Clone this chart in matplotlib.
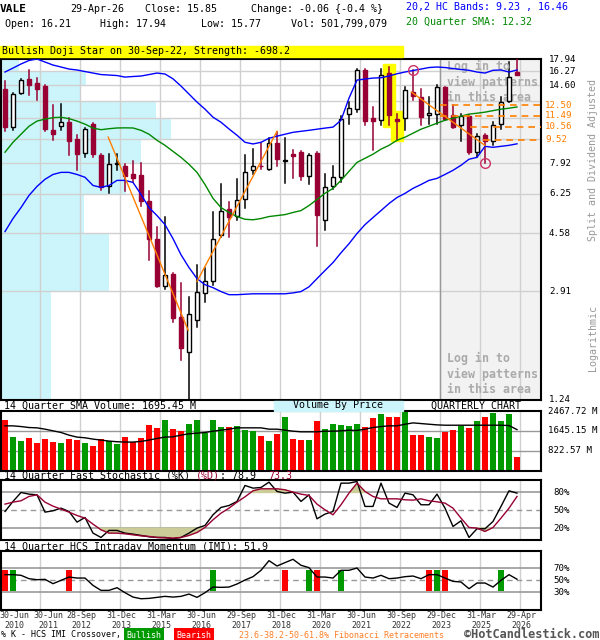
import numpy as np
import matplotlib
matplotlib.use("Agg")
import matplotlib.pyplot as plt
from matplotlib.patches import Rectangle
from matplotlib import transforms

# quarterly candles, Q2 2010 .. Q2 2026 (split and dividend adjusted)
opens = [14.2, 10.52, 13.74, 15.29, 14.86, 14.5, 10.31, 10.58, 10.94, 9.6,
         8.6, 10.79, 8.48, 6.65, 7.88, 7.78, 7.29, 7.23, 5.91, 4.37,
         3.03, 3.32, 2.37, 1.81, 2.33, 2.86, 3.15, 4.53, 5.53, 5.26,
         6.0, 7.52, 7.78, 7.58, 9.27, 8.09, 8.53, 8.66, 7.15, 8.58,
         5.09, 6.65, 7.1, 11.68, 12.14, 16.4, 11.28, 11.09, 16.07, 11.23,
         11.31, 13.85, 13.33, 11.53, 11.68, 14.4, 11.53, 10.66, 11.47, 8.64,
         9.91, 9.47, 10.74, 12.9, 16.21]
highs = [15.1, 13.7, 15.29, 16.4, 15.49, 14.6, 12.47, 12.56, 11.31, 9.86,
         10.46, 10.85, 8.55, 8.53, 8.53, 7.85, 8.09, 7.92, 6.39, 4.8,
         5.19, 3.35, 3.11, 2.78, 3.58, 3.5, 5.4, 6.74, 5.84, 7.0,
         8.48, 8.87, 9.27, 9.66, 10.1, 9.64, 8.8, 8.7, 8.55, 8.65,
         7.29, 7.78, 11.5, 12.8, 16.62, 16.62, 12.3, 16.62, 16.85, 11.68,
         14.4, 16.4, 14.2, 13.33, 14.59, 14.45, 12.47, 11.68, 11.55, 9.97,
         9.95, 10.94, 13.33, 17.5, 17.94]
lows = [10.24, 10.3, 13.6, 13.5, 13.03, 10.18, 9.52, 10.31, 8.43, 7.52,
        8.3, 8.3, 6.42, 6.3, 7.49, 6.39, 6.82, 5.69, 3.7, 3.0,
        2.95, 2.28, 1.7, 1.24, 2.19, 2.67, 3.06, 4.43, 4.43, 5.08,
        5.6, 7.29, 7.58, 7.52, 7.78, 6.8, 7.05, 6.94, 6.74, 4.15,
        4.71, 6.47, 6.83, 10.79, 11.83, 10.66, 8.76, 10.66, 10.66, 9.52,
        10.31, 13.0, 10.66, 10.79, 10.79, 11.09, 10.45, 9.47, 8.53, 8.3,
        7.92, 9.18, 10.38, 12.8, 15.77]
closes = [10.52, 13.6, 15.17, 14.66, 14.2, 10.38, 9.97, 10.91, 9.47, 8.53,
          10.38, 8.53, 6.6, 7.88, 7.94, 7.2, 7.07, 5.91, 4.37, 3.03,
          3.3, 2.35, 1.86, 2.43, 2.9, 3.15, 4.37, 5.46, 5.22, 5.95,
          7.39, 7.74, 7.73, 9.27, 8.2, 8.16, 8.42, 7.2, 8.48, 5.3,
          6.6, 7.1, 11.23, 12.23, 16.4, 11.03, 11.03, 15.8, 11.53, 11.03,
          14.08, 13.39, 11.38, 11.74, 14.4, 11.23, 10.52, 11.47, 8.64, 9.78,
          9.47, 10.66, 12.8, 15.58, 15.85]

# volume in millions and its 14 quarter SMA
volumes = [2111, 1371, 1206, 1330, 1124, 1289, 1165, 1124, 1289, 1248,
           1124, 1001, 1289, 1206, 1083, 1371, 1193, 1330, 1906, 1782,
           2111, 1741, 1618, 1947, 2111, 1535, 2111, 1823, 1823, 1864,
           1659, 1618, 1412, 1206, 1494, 2235, 1289, 1248, 1248, 2070,
           1741, 1947, 1906, 1864, 1947, 1823, 2193, 2358, 2235, 2235,
           2454, 1453, 1453, 1371, 1330, 1577, 1700, 1864, 1782, 2070,
           2235, 2399, 2070, 2358, 548]
vol_sma14 = [1851, 1851, 1823, 1782, 1769, 1714, 1645, 1577, 1467, 1385,
             1357, 1302, 1261, 1220, 1193, 1179, 1179, 1206, 1261, 1330,
             1385, 1398, 1467, 1522, 1549, 1577, 1631, 1673, 1714, 1769,
             1769, 1769, 1769, 1714, 1714, 1673, 1631, 1604, 1604, 1604,
             1631, 1631, 1645, 1673, 1659, 1714, 1782, 1823, 1851, 1851,
             1919, 1974, 1947, 1919, 1892, 1878, 1878, 1878, 1878, 1878,
             1878, 1878, 1878, 1864, 1695.45]

# 20,2 HC bands and 20 quarter SMA
hc_upper = [16.20, 16.71, 17.25, 17.73, 17.94, 17.52, 17.11, 16.85, 16.58, 16.46,
            16.26, 16.07, 15.88, 15.82, 15.76, 15.57, 15.64, 15.70, 15.88, 16.07,
            15.95, 15.36, 14.51, 13.63, 12.80, 12.11, 11.37, 10.93, 10.37, 9.87,
            9.34, 9.22, 9.34, 9.64, 9.80, 9.95, 10.10, 10.18, 10.26, 10.35,
            10.44, 10.52, 11.10, 13.20, 15.21, 15.33, 15.45, 15.49, 15.70, 15.98,
            16.20, 16.39, 16.58, 16.78, 16.85, 16.78, 16.65, 16.52, 16.42, 16.20,
            16.07, 16.42, 16.46, 16.20, 16.46]
hc_lower = [4.64, 5.14, 5.60, 6.16, 6.61, 6.99, 7.26, 7.38, 7.38, 7.26,
            7.10, 6.66, 6.56, 6.66, 6.93, 6.93, 6.82, 6.21, 5.60, 5.26,
            4.90, 4.39, 3.87, 3.50, 3.21, 3.06, 2.99, 2.90, 2.83, 2.83,
            2.84, 2.85, 2.85, 2.85, 2.85, 2.85, 2.87, 2.90, 3.01, 3.21,
            3.42, 3.64, 3.93, 4.22, 4.57, 4.90, 5.18, 5.47, 5.78, 6.06,
            6.26, 6.51, 6.71, 6.93, 7.04, 7.26, 7.50, 7.80, 8.18, 8.30,
            9.05, 8.98, 9.05, 9.12, 9.23]
sma20 = [8.64, 9.34, 9.95, 10.59, 11.03, 11.20, 11.33, 11.37, 11.24, 11.03,
         10.77, 10.44, 10.31, 10.39, 10.45, 10.46, 10.45, 10.26, 9.95, 9.49,
         9.12, 8.70, 8.30, 7.86, 7.38, 6.71, 6.02, 5.60, 5.39, 5.22,
         5.11, 5.09, 5.14, 5.22, 5.26, 5.30, 5.39, 5.47, 5.69, 5.97,
         6.26, 6.51, 6.93, 7.44, 7.98, 8.24, 8.51, 8.85, 9.12, 9.49,
         9.72, 10.03, 10.35, 10.59, 10.85, 11.10, 11.28, 11.46, 11.65, 11.73,
         11.83, 11.97, 12.11, 12.20, 12.32]

# 14 quarter fast stochastic
stoch_k = [48.0, 64.9, 80.0, 77.2, 76.1, 46.9, 49.2, 53.6, 48.0, 30.1,
           37.9, 11.6, 4.3, 16.1, 16.1, 11.6, 9.9, 7.7, 5.4, 4.3,
           4.3, 2.1, 4.3, 11.6, 20.0, 24.5, 42.4, 54.8, 58.1, 64.9,
           91.8, 87.3, 88.4, 97.4, 81.7, 78.9, 80.6, 64.9, 76.1, 35.7,
           43.6, 48.0, 95.7, 95.7, 98.5, 56.5, 56.5, 95.7, 62.1, 54.8,
           78.9, 76.1, 59.3, 59.3, 77.2, 53.6, 22.8, 32.3, 4.3, 18.9,
           18.9, 31.2, 56.5, 82.8, 78.9]
stoch_d = [60.4, 63.7, 66.0, 73.3, 76.1, 63.7, 57.0, 52.0, 46.9, 41.3,
           36.8, 26.7, 17.2, 11.6, 11.6, 10.5, 8.8, 7.1, 6.0, 4.3,
           3.7, 3.2, 4.3, 7.7, 12.7, 21.1, 34.0, 45.2, 53.6, 63.7,
           72.7, 82.8, 86.2, 86.2, 86.2, 84.5, 80.6, 77.2, 75.0, 60.4,
           50.8, 42.4, 59.3, 78.9, 95.7, 81.7, 73.3, 69.3, 69.3, 69.3,
           67.7, 67.1, 69.3, 66.0, 64.3, 62.1, 53.6, 36.8, 21.1, 20.0,
           14.4, 21.1, 36.8, 53.6, 73.3]

# 14 quarter HCS intraday momentum and %K crossover signals
imi = [59.6, 59.6, 58.5, 52.8, 51.1, 51.7, 44.4, 50.0, 55.6, 53.9,
       53.9, 41.5, 33.1, 33.1, 37.6, 29.2, 21.8, 19.0, 19.6, 21.3,
       23.0, 21.8, 23.0, 26.9, 21.3, 29.2, 38.7, 38.2, 38.7, 43.8,
       50.6, 56.2, 66.9, 83.2, 74.2, 79.9, 85.5, 75.4, 71.4, 55.6,
       55.6, 53.9, 66.9, 66.9, 70.8, 55.6, 53.9, 58.5, 52.8, 53.9,
       56.2, 57.3, 52.8, 59.6, 59.6, 53.9, 48.3, 47.2, 35.9, 45.5,
       45.5, 38.7, 50.0, 59.6, 51.9]
imi_bull = [1, 26, 38, 42, 54, 62]
imi_bear = [0, 8, 35, 39, 53, 55]

# volume by price (price band edges, relative volume)
vbp_edges = [1.24, 2.91, 4.58, 6.25, 7.92, 9.59, 11.26, 12.93, 14.60, 16.27, 17.94]
vbp_volume = [50, 108, 83, 125, 140, 170, 155, 80, 85, 18]

# fibonacci retracements
fib_levels = [12.50, 11.49, 10.56, 9.52]
fib_from = [54.4, 54.4, 58.1, 59.8]
fib_swings = [(12.9, 9.73, 22.9, 2.14), (24.0, 3.14, 34.0, 10.18), (50.8, 13.85, 60.0, 9.11)]
pivot_marks = [(51, 16.4), (60, 7.92)]
pattern_quarters = [48, 49]

price_labels = {1.24: '1.24', 2.91: '2.91', 4.58: '4.58', 6.25: '6.25', 7.92: '7.92',
                14.60: '14.60', 16.27: '16.27', 17.94: '17.94'}
vol_ticks = [822.57, 1645.15, 2467.72]
date_labels = ['30-Jun\n2010', '30-Jun\n2011', '28-Sep\n2012', '31-Dec\n2013', '31-Mar\n2015',
               '30-Jun\n2016', '29-Sep\n2017', '31-Dec\n2018', '31-Mar\n2020', '30-Jun\n2021',
               '30-Sep\n2022', '29-Dec\n2023', '31-Mar\n2025', '29-Apr\n2026']

MONO = 'DejaVu Sans Mono'
plt.rcParams['font.family'] = MONO
FS = 7.2
RED_C = '#990033'
GRID = '#d0d0d0'

fig = plt.figure(figsize=(6, 6.4), dpi=100)


def fx(px):
    return px / 600.0


def fy(py):
    return 1 - py / 640.0


vgrid = np.arange(4.375, 65, 5)


def add_panel(top, bottom):
    a = fig.add_axes([fx(1), fy(bottom), fx(541) - fx(1), (bottom - top) / 640.0])
    a.set_xlim(-0.5, 67)
    for s in a.spines.values():
        s.set_linewidth(1.5)
    for gx in vgrid:
        a.axvline(gx, color=GRID, lw=1, zorder=0.5)
    return a


def no_ticks(a):
    a.tick_params(which='both', left=False, bottom=False, right=False, top=False,
                  labelleft=False, labelbottom=False)


x = np.arange(len(closes))
o = np.array(opens)
h = np.array(highs)
l = np.array(lows)
c = np.array(closes)
up = c >= o

# ---------------- price panel
ax = add_panel(59, 400)
ax.set_yscale('log')
ax.set_ylim(1.24, 17.94)
no_ticks(ax)
ax.axvspan(vgrid[10], 67, color='#f2f2f2', zorder=0.1)
ax.axvline(vgrid[10], color='#999999', lw=1, zorder=0.6)
ax.barh(vbp_edges[:-1], np.array(vbp_volume) / 8.0, height=np.diff(vbp_edges),
        left=-0.5, align='edge', color='#ccf5fb', zorder=0.2)
for g in vbp_edges[1:-1]:
    ax.axhline(g, color=GRID, lw=1, zorder=0.5)

for q in pattern_quarters:
    ax.add_patch(Rectangle((q - 0.72, l[q] / 1.01), 1.44, h[q] * 1.02 - l[q] / 1.01,
                           color='#ffff00', zorder=1))

for i in x:
    col = 'black' if up[i] else RED_C
    ax.plot([i, i], [l[i], h[i]], color=col, lw=1.1, zorder=3)
bot = np.minimum(o, c)
hgt = np.maximum(np.abs(c - o), 0.01)
ax.bar(x[up], hgt[up], bottom=bot[up], width=0.62, facecolor='white',
       edgecolor='black', lw=1, zorder=3.5)
ax.bar(x[~up], hgt[~up], bottom=bot[~up], width=0.62, facecolor=RED_C,
       edgecolor=RED_C, lw=1, zorder=3.5)

ax.plot(x, hc_upper, color='#0000ff', lw=1, zorder=4)
ax.plot(x, hc_lower, color='#0000ff', lw=1, zorder=4)
ax.plot(x, sma20, color='#008800', lw=1, zorder=4)

for x0, p0, x1, p1 in fib_swings:
    ax.plot([x0, x1], [p0, p1], color='#ff7f00', lw=1, zorder=4.5)
for lev, start in zip(fib_levels, fib_from):
    ax.plot([start, 67], [lev, lev], color='#ff7f00', lw=1.2, ls=(0, (4, 3)), zorder=4.5)
for px_, pp in pivot_marks:
    ax.plot(px_, pp, marker='o', ms=7, mfc='none', mec='#cc3366', mew=1, zorder=5)

for yy in (67, 82, 97):
    pass
ax.text(fx(447), fy(60), 'Log in to\nview patterns\nin this area', transform=fig.transFigure,
        fontsize=8.4, fontweight='bold', color='#aaaaaa', va='top', ha='left', linespacing=1.25)
ax.text(fx(447), fy(352), 'Log in to\nview patterns\nin this area', transform=fig.transFigure,
        fontsize=8.4, fontweight='bold', color='#aaaaaa', va='top', ha='left', linespacing=1.25)

tr_p = transforms.blended_transform_factory(fig.transFigure, ax.transData)
for v, s in price_labels.items():
    fig.text(fx(549), v, s, transform=tr_p, fontsize=6.6, va='center', ha='left')
for lev in fib_levels:
    fig.text(fx(545), lev, '%.2f' % lev, transform=tr_p, fontsize=6.6, va='center',
             ha='left', color='#ff7f00')
fig.text(fx(593), fy(160), 'Split and Dividend Adjusted', rotation=90, fontsize=FS,
         color='#999999', ha='center', va='center')
fig.text(fx(593), fy(338), 'Logarithmic', rotation=90, fontsize=FS,
         color='#999999', ha='center', va='center')

# ---------------- header
fig.text(fx(0), fy(9), 'VALE', fontsize=8, fontweight='bold', va='center')
fig.text(fx(70), fy(9), '29-Apr-26', fontsize=FS, va='center')
fig.text(fx(145), fy(9), 'Close: %.2f' % c[-1], fontsize=FS, va='center')
fig.text(fx(251), fy(9), 'Change: %.2f {-0.4 %%}' % (c[-1] - 15.91), fontsize=FS, va='center')
fig.text(fx(406), fy(7), '20,2 HC Bands: %.2f , %.2f' % (hc_lower[-1], hc_upper[-1]),
         fontsize=FS, va='center', color='#0000ff')
fig.text(fx(5), fy(24), 'Open: %.2f' % o[-1], fontsize=FS, va='center')
fig.text(fx(100), fy(24), 'High: %.2f' % h[-1], fontsize=FS, va='center')
fig.text(fx(201), fy(24), 'Low: %.2f' % l[-1], fontsize=FS, va='center')
fig.text(fx(291), fy(24), 'Vol: 501,799,079', fontsize=FS, va='center')
fig.text(fx(406), fy(22), '20 Quarter SMA: %.2f' % sma20[-1], fontsize=FS, va='center',
         color='#008800')
fig.add_artist(Rectangle((0, fy(56.7)), fx(403), 11 / 640.0, transform=fig.transFigure,
                         color='#ffff00'))
fig.text(fx(2), fy(51), 'Bullish Doji Star on 30-Sep-22, Strength: -698.2', fontsize=FS,
         va='center')

# ---------------- volume panel
axv = add_panel(410.7, 470.5)
no_ticks(axv)
axv.set_ylim(0, 2480)
vcol = np.where(up, '#009900', '#ff0000')
axv.bar(x, volumes, width=0.75, color=vcol, zorder=2)
for t in vol_ticks[:2]:
    axv.axhline(t, color='#999999', lw=1, zorder=1)
axv.plot(x, vol_sma14, color='black', lw=1, zorder=3)
tr_v = transforms.blended_transform_factory(fig.transFigure, axv.transData)
for t in vol_ticks:
    fig.text(fx(548), min(t, 2440), '%.2f M' % t, transform=tr_v, fontsize=6.6, va='center')
fig.add_artist(Rectangle((fx(274), fy(411)), fx(129), 10.5 / 640.0, transform=fig.transFigure,
                         color='#ccf5fb'))
fig.text(fx(4), fy(405.5), '14 Quarter SMA Volume: %.2f M' % vol_sma14[-1], fontsize=FS,
         va='center')
fig.text(fx(338), fy(405.5), 'Volume By Price', fontsize=FS, va='center', ha='center')
fig.text(fx(431), fy(405.5), 'QUARTERLY CHART', fontsize=FS, va='center')

# ---------------- stochastic panel
axs = add_panel(480, 540)
no_ticks(axs)
axs.set_ylim(0, 101)
for t in (80, 20):
    axs.axhline(t, color='#999999', lw=1.2, zorder=1)
axs.axhline(50, color='#999999', lw=1, ls=(0, (4, 3)), zorder=1)
sd = np.array(stoch_d)
axs.fill_between(x, sd, 20, where=sd < 20, interpolate=True, color='#cccc99', zorder=1.5)
axs.fill_between(x, sd, 80, where=sd > 80, interpolate=True, color='#cccc99', zorder=1.5)
axs.plot(x, stoch_k, color='black', lw=1, zorder=3)
axs.plot(x, stoch_d, color=RED_C, lw=1, zorder=3)
tr_s = transforms.blended_transform_factory(fig.transFigure, axs.transData)
for t in (80, 50, 20):
    fig.text(fx(553), t, '%d%%' % t, transform=tr_s, fontsize=6.6, va='center')
fig.text(fx(4), fy(476), '14 Quarter Fast Stochastic (%K)', fontsize=FS, va='center')
fig.text(fx(196), fy(476), '(%D)', fontsize=FS, va='center', color=RED_C)
fig.text(fx(220), fy(476), ': %.1f' % stoch_k[-1], fontsize=FS, va='center')
fig.text(fx(268), fy(476), '%.1f' % stoch_d[-1], fontsize=FS, va='center', color=RED_C)

# ---------------- IMI panel
axi = add_panel(550.7, 610)
no_ticks(axi)
axi.set_ylim(0, 100)
for t in (70, 30):
    axi.axhline(t, color='#999999', lw=1.2, zorder=1)
axi.axhline(50, color='#999999', lw=1, ls=(0, (4, 3)), zorder=1)
axi.bar(imi_bull, 35.5, bottom=31.5, width=0.75, color='#009900', zorder=2)
axi.bar(imi_bear, 35.5, bottom=31.5, width=0.75, color='#ff0000', zorder=2)
axi.plot(x, imi, color='black', lw=1, zorder=3)
tr_i = transforms.blended_transform_factory(fig.transFigure, axi.transData)
for t in (70, 50, 30):
    fig.text(fx(553), t, '%d%%' % t, transform=tr_i, fontsize=6.6, va='center')
fig.text(fx(4), fy(547), '14 Quarter HCS Intraday Momentum (IMI): %.1f' % imi[-1],
         fontsize=FS, va='center')

xt_pos = [1.2, 5.4, 9.5] + list(np.arange(14.5, 65, 5))
tr_x = transforms.blended_transform_factory(axi.transData, fig.transFigure)
for pos, lab in zip(xt_pos, date_labels):
    axi.text(pos, fy(611), lab, transform=tr_x, fontsize=6, ha='center', va='top',
             linespacing=1.15, color='#333333')

# ---------------- footer
fig.text(fx(1), fy(635), '% K - HCS IMI Crossover,', fontsize=6, va='center')
fig.text(fx(144), fy(635), 'Bullish', fontsize=6, va='center', ha='center', color='white',
         bbox=dict(boxstyle='square,pad=0.25', fc='#009900', ec='none'))
fig.text(fx(194), fy(635), 'Bearish', fontsize=6, va='center', ha='center', color='white',
         bbox=dict(boxstyle='square,pad=0.25', fc='#ff0000', ec='none'))
fig.text(fx(239), fy(635), '23.6-38.2-50-61.8% Fibonacci Retracements', fontsize=6,
         va='center', color='#ff7f27')
fig.text(fx(599), fy(635), '\u00a9HotCandlestick.com', fontsize=8.6, fontweight='bold',
         va='center', ha='right', color='#555555')

fig.savefig('out.png', dpi=100)
